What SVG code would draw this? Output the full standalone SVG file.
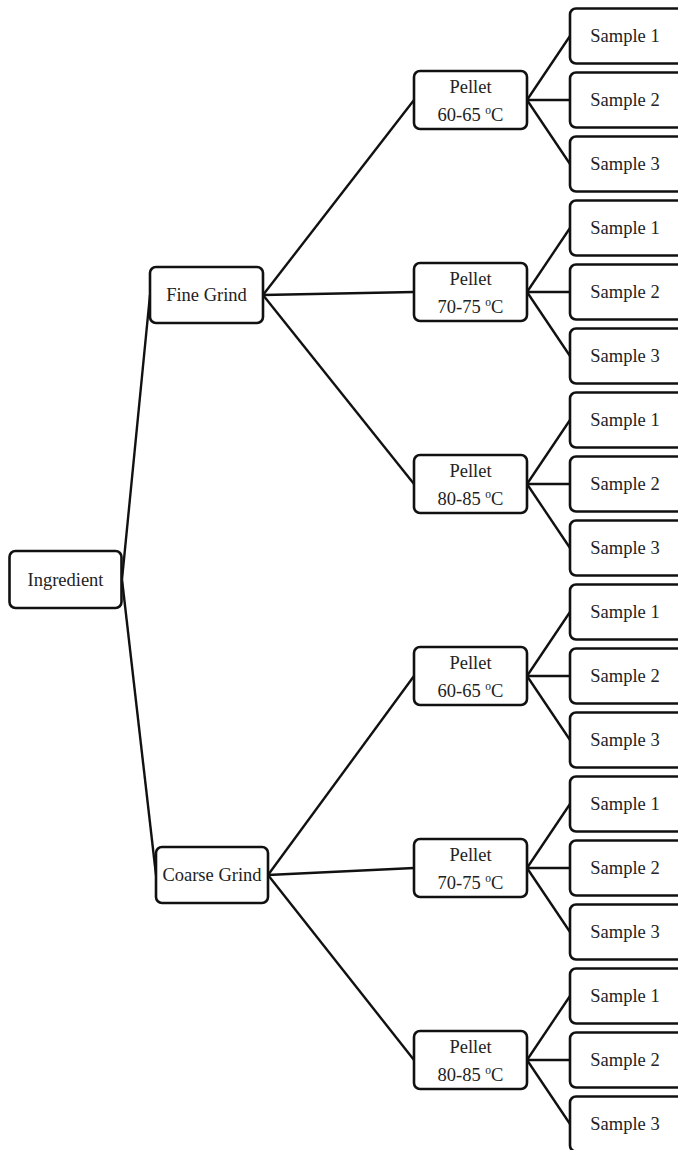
<svg xmlns="http://www.w3.org/2000/svg" width="678" height="1150" viewBox="0 0 678 1150">
<style>
.box{fill:#fff;stroke:#111;stroke-width:2.6}
.lbl{font-family:"Liberation Serif","Times New Roman",serif;font-size:18.5px;fill:#222;text-anchor:middle}
.sup{font-size:11.5px}
#connectors line{stroke:#111;stroke-width:2.4}
</style>
<rect width="678" height="1150" fill="#fff"/>
<g id="connectors">
<line x1="122" y1="579.5" x2="150" y2="295"/>
<line x1="122" y1="579.5" x2="156" y2="875"/>
<line x1="263" y1="295" x2="414" y2="100"/>
<line x1="263" y1="295" x2="414" y2="292"/>
<line x1="263" y1="295" x2="414" y2="484"/>
<line x1="268" y1="875" x2="414" y2="676"/>
<line x1="268" y1="875" x2="414" y2="868"/>
<line x1="268" y1="875" x2="414" y2="1060"/>
<line x1="527" y1="100" x2="570" y2="36"/><line x1="527" y1="100" x2="570" y2="100"/><line x1="527" y1="100" x2="570" y2="164"/>
<line x1="527" y1="292" x2="570" y2="228"/><line x1="527" y1="292" x2="570" y2="292"/><line x1="527" y1="292" x2="570" y2="356"/>
<line x1="527" y1="484" x2="570" y2="420"/><line x1="527" y1="484" x2="570" y2="484"/><line x1="527" y1="484" x2="570" y2="548"/>
<line x1="527" y1="676" x2="570" y2="612"/><line x1="527" y1="676" x2="570" y2="676"/><line x1="527" y1="676" x2="570" y2="740"/>
<line x1="527" y1="868" x2="570" y2="804"/><line x1="527" y1="868" x2="570" y2="868"/><line x1="527" y1="868" x2="570" y2="932"/>
<line x1="527" y1="1060" x2="570" y2="996"/><line x1="527" y1="1060" x2="570" y2="1060"/><line x1="527" y1="1060" x2="570" y2="1124"/>
</g>
<g id="ingredient"><rect class="box" x="9.5" y="551" width="112" height="57" rx="6"/><text class="lbl" x="65.5" y="586">Ingredient</text></g>
<g id="fine-grind"><rect class="box" x="150" y="267" width="113" height="56" rx="6"/><text class="lbl" x="206.5" y="301">Fine Grind</text></g>
<g id="coarse-grind"><rect class="box" x="156" y="847" width="112" height="56" rx="6"/><text class="lbl" x="212" y="881">Coarse Grind</text></g>

<g id="pellet-f1"><rect class="box" x="414" y="71" width="113" height="58" rx="6"/><text class="lbl" x="470.5" y="93">Pellet</text><text class="lbl" x="470.5" y="121">60-65 <tspan class="sup" dy="-7">o</tspan><tspan dy="7">C</tspan></text></g>
<g id="pellet-f2"><rect class="box" x="414" y="263" width="113" height="58" rx="6"/><text class="lbl" x="470.5" y="285">Pellet</text><text class="lbl" x="470.5" y="313">70-75 <tspan class="sup" dy="-7">o</tspan><tspan dy="7">C</tspan></text></g>
<g id="pellet-f3"><rect class="box" x="414" y="455" width="113" height="58" rx="6"/><text class="lbl" x="470.5" y="477">Pellet</text><text class="lbl" x="470.5" y="505">80-85 <tspan class="sup" dy="-7">o</tspan><tspan dy="7">C</tspan></text></g>
<g id="pellet-c1"><rect class="box" x="414" y="647" width="113" height="58" rx="6"/><text class="lbl" x="470.5" y="669">Pellet</text><text class="lbl" x="470.5" y="697">60-65 <tspan class="sup" dy="-7">o</tspan><tspan dy="7">C</tspan></text></g>
<g id="pellet-c2"><rect class="box" x="414" y="839" width="113" height="58" rx="6"/><text class="lbl" x="470.5" y="861">Pellet</text><text class="lbl" x="470.5" y="889">70-75 <tspan class="sup" dy="-7">o</tspan><tspan dy="7">C</tspan></text></g>
<g id="pellet-c3"><rect class="box" x="414" y="1031" width="113" height="58" rx="6"/><text class="lbl" x="470.5" y="1053">Pellet</text><text class="lbl" x="470.5" y="1081">80-85 <tspan class="sup" dy="-7">o</tspan><tspan dy="7">C</tspan></text></g>

<g id="s1"><rect class="box" x="570" y="8.5" width="120" height="55" rx="6"/><text class="lbl" x="625" y="42">Sample 1</text></g>
<g id="s2"><rect class="box" x="570" y="72.5" width="120" height="55" rx="6"/><text class="lbl" x="625" y="106">Sample 2</text></g>
<g id="s3"><rect class="box" x="570" y="136.5" width="120" height="55" rx="6"/><text class="lbl" x="625" y="170">Sample 3</text></g>
<g id="s4"><rect class="box" x="570" y="200.5" width="120" height="55" rx="6"/><text class="lbl" x="625" y="234">Sample 1</text></g>
<g id="s5"><rect class="box" x="570" y="264.5" width="120" height="55" rx="6"/><text class="lbl" x="625" y="298">Sample 2</text></g>
<g id="s6"><rect class="box" x="570" y="328.5" width="120" height="55" rx="6"/><text class="lbl" x="625" y="362">Sample 3</text></g>
<g id="s7"><rect class="box" x="570" y="392.5" width="120" height="55" rx="6"/><text class="lbl" x="625" y="426">Sample 1</text></g>
<g id="s8"><rect class="box" x="570" y="456.5" width="120" height="55" rx="6"/><text class="lbl" x="625" y="490">Sample 2</text></g>
<g id="s9"><rect class="box" x="570" y="520.5" width="120" height="55" rx="6"/><text class="lbl" x="625" y="554">Sample 3</text></g>
<g id="s10"><rect class="box" x="570" y="584.5" width="120" height="55" rx="6"/><text class="lbl" x="625" y="618">Sample 1</text></g>
<g id="s11"><rect class="box" x="570" y="648.5" width="120" height="55" rx="6"/><text class="lbl" x="625" y="682">Sample 2</text></g>
<g id="s12"><rect class="box" x="570" y="712.5" width="120" height="55" rx="6"/><text class="lbl" x="625" y="746">Sample 3</text></g>
<g id="s13"><rect class="box" x="570" y="776.5" width="120" height="55" rx="6"/><text class="lbl" x="625" y="810">Sample 1</text></g>
<g id="s14"><rect class="box" x="570" y="840.5" width="120" height="55" rx="6"/><text class="lbl" x="625" y="874">Sample 2</text></g>
<g id="s15"><rect class="box" x="570" y="904.5" width="120" height="55" rx="6"/><text class="lbl" x="625" y="938">Sample 3</text></g>
<g id="s16"><rect class="box" x="570" y="968.5" width="120" height="55" rx="6"/><text class="lbl" x="625" y="1002">Sample 1</text></g>
<g id="s17"><rect class="box" x="570" y="1032.5" width="120" height="55" rx="6"/><text class="lbl" x="625" y="1066">Sample 2</text></g>
<g id="s18"><rect class="box" x="570" y="1096.5" width="120" height="55" rx="6"/><text class="lbl" x="625" y="1130">Sample 3</text></g>
</svg>
